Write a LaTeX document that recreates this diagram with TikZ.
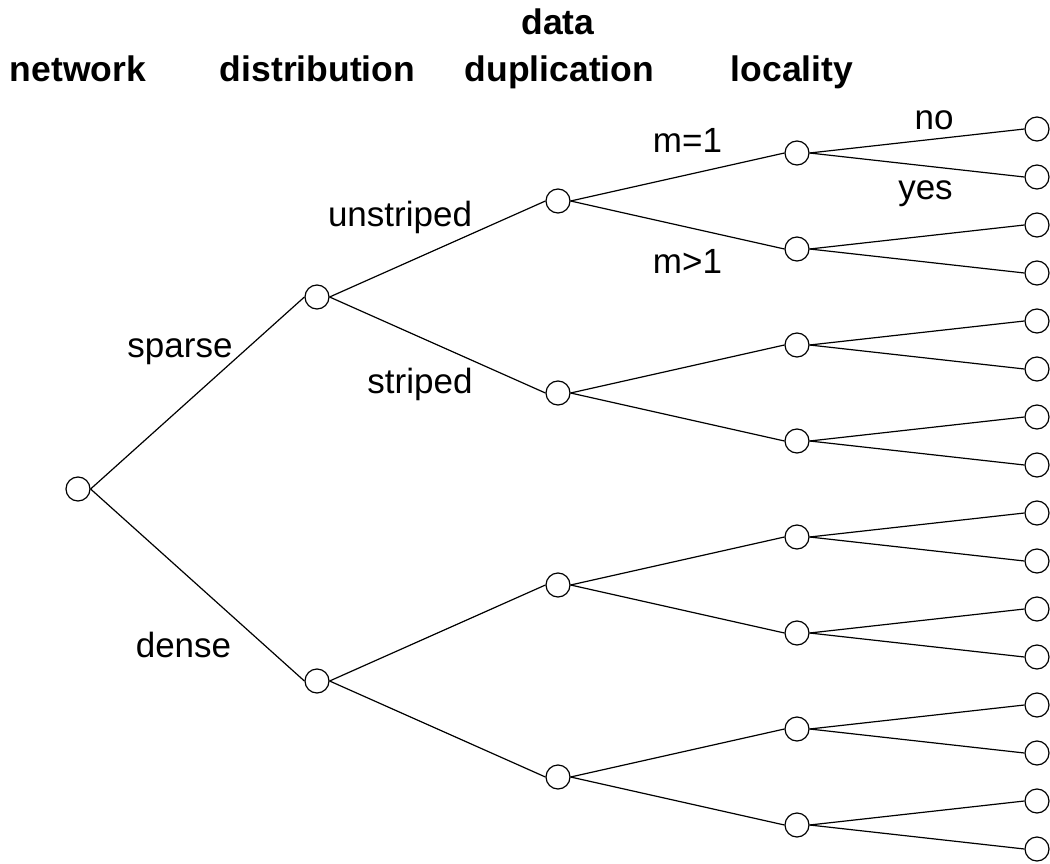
\documentclass[tikz,border=0pt]{standalone}
\usepackage{fontspec}
\setmainfont{Liberation Sans}
\usepackage{tikz}

\begin{document}
\begin{tikzpicture}
		[x=1pt,y=-1pt,line width=1.2pt,
		font=\fontsize{35}{42}\selectfont,
		place/.style={circle,draw=black,fill=white,inner sep=0pt, minimum size=24pt},
		header/.style={font=\fontsize{35.5}{42}\selectfont\bfseries,anchor=base,inner sep=0pt},
		choice/.style={anchor=base,inner sep=0pt}]
		\useasboundingbox (0,0) rectangle (1050,864);

		\node [header] (h1) at (78,82) {network};
		\node [header] (h2) at (317.5,82) {distribution};
		\node [header] (h3) at (558,35) {data};
		\node [header] (h4) at (559.5,82) {duplication};
		\node [header] (h5) at (792,82) {locality};

		\node [place] (n0) at (78,489) {};

		\node [place] (d1) at (317,297) {};
		\node [place] (d2) at (317,681) {};

		\node [place] (u1) at (558,201) {};
		\node [place] (u2) at (558,393) {};
		\node [place] (u3) at (558,585) {};
		\node [place] (u4) at (558,777) {};

		\node [place] (l1) at (797,153) {};
		\node [place] (l2) at (797,249) {};
		\node [place] (l3) at (797,345) {};
		\node [place] (l4) at (797,441) {};
		\node [place] (l5) at (797,537) {};
		\node [place] (l6) at (797,633) {};
		\node [place] (l7) at (797,729) {};
		\node [place] (l8) at (797,825) {};

		\node [place] (e1) at (1037,129) {};
		\node [place] (e2) at (1037,177) {};
		\node [place] (e3) at (1037,225) {};
		\node [place] (e4) at (1037,273) {};
		\node [place] (e5) at (1037,321) {};
		\node [place] (e6) at (1037,369) {};
		\node [place] (e7) at (1037,417) {};
		\node [place] (e8) at (1037,465) {};
		\node [place] (e9) at (1037,513) {};
		\node [place] (e10) at (1037,561) {};
		\node [place] (e11) at (1037,609) {};
		\node [place] (e12) at (1037,657) {};
		\node [place] (e13) at (1037,705) {};
		\node [place] (e14) at (1037,753) {};
		\node [place] (e15) at (1037,801) {};
		\node [place] (e16) at (1037,849) {};

		\draw (n0.east) -- (d1.west);
		\draw (n0.east) -- (d2.west);

		\draw (d1.east) -- (u1.west);
		\draw (d1.east) -- (u2.west);
		\draw (d2.east) -- (u3.west);
		\draw (d2.east) -- (u4.west);

		\draw (u1.east) -- (l1.west);
		\draw (u1.east) -- (l2.west);
		\draw (u2.east) -- (l3.west);
		\draw (u2.east) -- (l4.west);
		\draw (u3.east) -- (l5.west);
		\draw (u3.east) -- (l6.west);
		\draw (u4.east) -- (l7.west);
		\draw (u4.east) -- (l8.west);

		\draw (l1.east) -- (e1.west);
		\draw (l1.east) -- (e2.west);
		\draw (l2.east) -- (e3.west);
		\draw (l2.east) -- (e4.west);
		\draw (l3.east) -- (e5.west);
		\draw (l3.east) -- (e6.west);
		\draw (l4.east) -- (e7.west);
		\draw (l4.east) -- (e8.west);
		\draw (l5.east) -- (e9.west);
		\draw (l5.east) -- (e10.west);
		\draw (l6.east) -- (e11.west);
		\draw (l6.east) -- (e12.west);
		\draw (l7.east) -- (e13.west);
		\draw (l7.east) -- (e14.west);
		\draw (l8.east) -- (e15.west);
		\draw (l8.east) -- (e16.west);

		\node [choice] (c1) at (180,357) {sparse};
		\node [choice] (c2) at (183.5,657) {dense};
		\node [choice] (c3) at (400,226) {unstriped};
		\node [choice] (c4) at (420,393) {striped};
		\node [choice] (c5) at (687.5,153) {m=1};
		\node [choice] (c6) at (687.5,273) {m>1};
		\node [choice] (c7) at (934,130) {no};
		\node [choice] (c8) at (925.5,200) {yes};

	\end{tikzpicture}
\end{document}
